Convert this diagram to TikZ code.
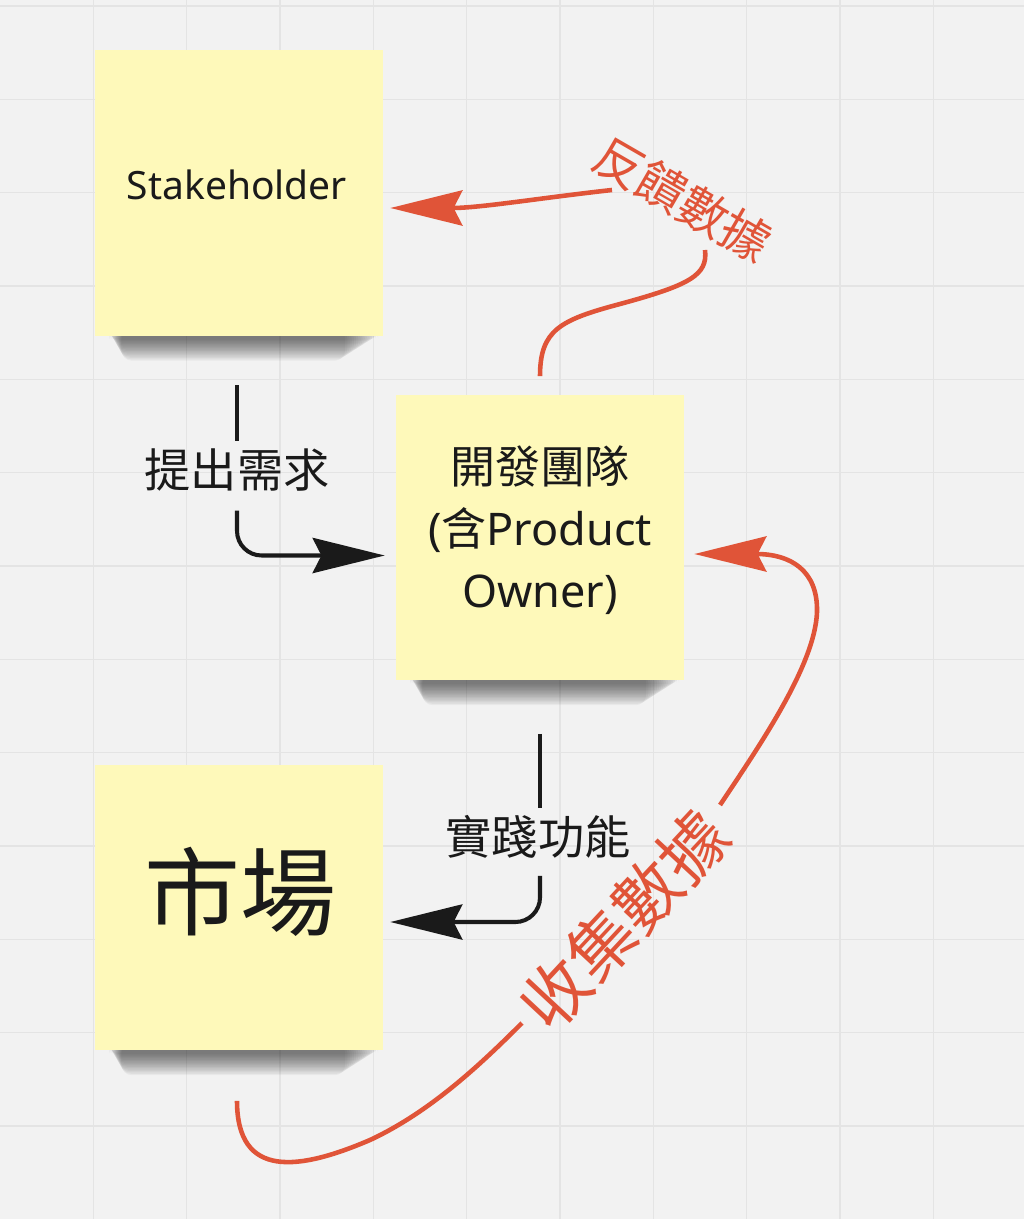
\documentclass[tikz,border=0pt]{standalone}
\usepackage{fontspec}
\setmainfont{Noto Sans}
\newfontfamily\cjk{Noto Sans CJK TC}
\usepackage{tikz}
\usetikzlibrary{arrows.meta,positioning,calc}
\definecolor{boardgrey}{RGB}{242,242,242}
\definecolor{gridgrey}{RGB}{228,228,228}
\definecolor{noteyellow}{RGB}{254,249,186}
\definecolor{inkblack}{RGB}{26,26,26}
\definecolor{datared}{RGB}{224,84,56}
\pgfdeclarelayer{board}
\pgfdeclarelayer{shade}
\pgfsetlayers{board,shade,main}
\tikzset{
	sticky/.style={
		fill=noteyellow,
		minimum width=5.76cm,
		minimum height=5.72cm,
		inner sep=0pt
	},
	notetext/.style={
		text=inkblack,
		align=center,
		inner sep=0pt
	},
	steplabel/.style={
		text=inkblack,
		inner xsep=0pt,
		inner ysep=4pt,
		font=\cjk\fontsize{26.3pt}{30pt}\selectfont
	},
	datalabel/.style={
		text=datared,
		inner sep=0pt
	},
	gridline/.style={
		draw=gridgrey,
		line width=0.85pt
	},
	blkline/.style={
		draw=inkblack,
		line width=2.3pt
	},
	blkflow/.style={
		blkline,
		-{Stealth[length=41pt,width=20pt,inset=5pt]}
	},
	redline/.style={
		draw=datared,
		line width=2.6pt
	},
	redflow/.style={
		redline,
		-{Stealth[length=41pt,width=20pt,inset=5pt]}
	}
}

\begin{document}
\begin{tikzpicture}[x=0.02cm,y=-0.02cm]
	
	% Board
	\useasboundingbox (0,0) rectangle (1024,1219);
	\begin{pgfonlayer}{board}
		\fill[boardgrey] (0,0) rectangle (1024,1219);
		\foreach \gx in {1,...,10}
		\draw[gridline] ({\gx*93.33},0) -- ({\gx*93.33},1219);
		\foreach \gy in {0,...,13}
		\draw[gridline] (0,{6+\gy*93.33}) -- (1024,{6+\gy*93.33});
	\end{pgfonlayer}
	
	% Sticky notes
	\node[sticky] (stake) at (239,193) {};
	\node[notetext,font=\fontsize{22.2pt}{26pt}\selectfont] at (237,185) {Stakeholder};
	
	\node[sticky] (dev) at (540,537.5) {};
	\node[notetext,font=\fontsize{25.6pt}{35.3pt}\selectfont] at (540,530)
	{{\cjk 開發團隊}\\({\cjk 含}Product\\Owner)};
	
	\node[sticky] (market) at (239,907.5) {};
	\node[notetext,font=\cjk\fontsize{54.6pt}{60pt}\selectfont] at (240,892) {市場};
	
	% Shadows
	\begin{pgfonlayer}{shade}
		\foreach \n in {stake,dev,market}
		\foreach \k in {1,...,16}
		\fill[black,opacity=0.038,rounded corners=6pt]
		($(\n.south west)+(14+0.8*\k,-8)$) rectangle ($(\n.south east)+(-3-2.2*\k,2+1.4*\k)$);
	\end{pgfonlayer}
	
	% Labels
	\node[steplabel] (need) at (237,470) {提出需求};
	\node[steplabel] (impl) at (538,837) {實踐功能};
	\node[datalabel,rotate=-30,font=\cjk\fontsize{27.8pt}{32pt}\selectfont] (fb) at (683,199) {反饋數據};
	\node[datalabel,rotate=47,font=\cjk\fontsize{38pt}{44pt}\selectfont] (cd) at (624,920) {收集數據};
	
	% Free ends beside the red labels
	\coordinate (fbfoot) at (705,250);
	\coordinate (fbhead) at (612,190);
	\coordinate (cdfoot) at (522,1023);
	\coordinate (cdtop) at (720,805);
	
	% Black flow
	\draw[blkline] ($(stake.south)+(-2,49)$) -- (need.north);
	\draw[blkflow,rounded corners=14pt] ($(need.south)+(0,12)$) |- ($(dev.west)+(-11,18)$);
	\draw[blkline] ($(dev.south)+(0,53)$) -- ($(impl.north)+(2,0)$);
	\draw[blkflow,rounded corners=14pt] ($(impl.south)+(2,10)$) |- ($(market.east)+(7,14.5)$);
	
	% Red feedback
	\draw[redline] ($(dev.north)+(0,-18)$) .. controls (540,330) and (560,320) .. (620,304)
	.. controls (690,285) and (708,275) .. (fbfoot);
	\draw[redflow] (fbhead) .. controls (540,198) and (480,208) .. ($(stake.east)+(7,15)$);
	
	\draw[redline] ($(market.south)+(-2,50)$) .. controls (237,1180) and (300,1170) .. (370,1140)
	.. controls (430,1112) and (480,1065) .. (cdfoot);
	\draw[redflow] (cdtop) .. controls (760,745) and (815,665) .. (817,612)
	.. controls (818,570) and (790,554) .. ($(dev.east)+(10,16.5)$);
	
\end{tikzpicture}
\end{document}
